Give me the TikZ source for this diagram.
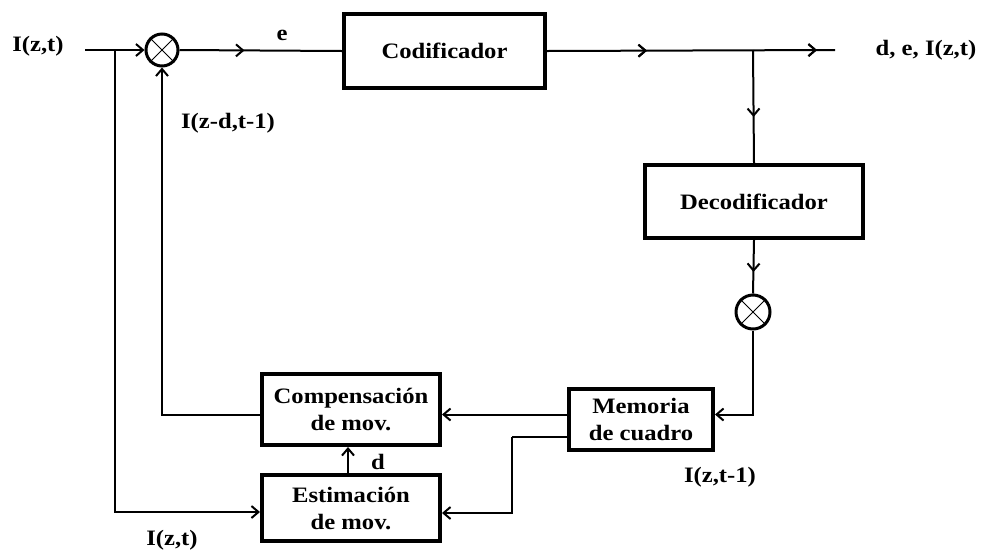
\documentclass[tikz,border=0pt]{standalone}
\usepackage{fontspec}
\setmainfont{Liberation Serif}[FakeStretch=1.12]
\usetikzlibrary{arrows.meta,decorations.markings}
\tikzset{
  >={Straight Barb[length=7pt,width=12pt]},
  lbl/.style={font=\fontsize{22}{27}\selectfont\bfseries, inner sep=0pt, align=center},
  blockbox/.style={draw, line width=4pt, lbl},
  mixer/.style={draw, circle, line width=3pt, inner sep=0pt},
  wire/.style={line width=2pt},
  midarr/.style={postaction={decorate},
    decoration={markings, mark=at position #1 with {\arrow{>}}}},
}
\begin{document}
\begin{tikzpicture}[x=1pt,y=-1pt]
\fill[white] (0,0) rectangle (982,550);
\useasboundingbox (0,0) rectangle (982,550);

% blocks
\node[blockbox, minimum width=201pt, minimum height=74pt] (cod) at (444.5,51) {Codificador};
\node[blockbox, minimum width=218pt, minimum height=73pt] (dec) at (754,201.5) {Decodificador};
\node[blockbox, minimum width=178pt, minimum height=71pt] (comp) at (351,409.5) {Compensación\\de mov.};
\node[blockbox, minimum width=178pt, minimum height=66pt] (est) at (351,508) {Estimación\\de mov.};
\node[blockbox, minimum width=144pt, minimum height=61pt] (mem) at (641,419.5) {Memoria\\de cuadro};

% mixers
\node[mixer, minimum size=32pt] (mx1) at (162,50) {};
\node[mixer, minimum size=34pt] (mx2) at (753,312) {};
\draw[line width=1pt] (mx1.north west) -- (mx1.south east) (mx1.north east) -- (mx1.south west);
\draw[line width=1pt] (mx2.north west) -- (mx2.south east) (mx2.north east) -- (mx2.south west);

% labels
\node[lbl] (lin) at (38,46) {I(z,t)};
\node[lbl] (le) at (282,35) {e};
\node[lbl] (lout) at (926,50) {d, e, I(z,t)};
\node[lbl] (lfb) at (228,123) {I(z-d,t-1)};
\node[lbl] (ld) at (378,462) {d};
\node[lbl] (lmem) at (720,477) {I(z,t-1)};
\node[lbl] (lbot) at (172,540) {I(z,t)};

% coordinates
\coordinate (start) at (85,50);
\coordinate (br1) at (115,50);
\coordinate (br2) at (753,50);
\coordinate (outend) at (835,50);
\coordinate (c3) at (512,437);

% connectors
\draw[wire,->] (start) -- (mx1.west);
\draw[wire,->] (br1) |- ([yshift=-4pt]est.west);
\draw[wire,midarr=65pt] (mx1.east) -- (cod.west);
\draw[wire,midarr=100pt,midarr=270pt] (cod.east) -- (outend);
\draw[wire,midarr=67pt] (br2) -- (dec.north);
\draw[wire,midarr=32pt] (dec.south) -- (mx2.north);
\draw[wire,->] (mx2.south) |- ([yshift=5pt]mem.east);
\draw[wire,->] ([yshift=5pt]mem.west) -- ([yshift=-5pt]comp.east);
\draw[wire] ([yshift=-17.5pt]mem.west) -- (c3);
\draw[wire,->] (c3) |- ([yshift=-5pt]est.east);
\draw[wire,->] ([yshift=-5pt]comp.west) -| (mx1.south);
\draw[wire,->] ([xshift=-3pt]est.north) -- ([xshift=-3pt]comp.south);
\end{tikzpicture}
\end{document}
